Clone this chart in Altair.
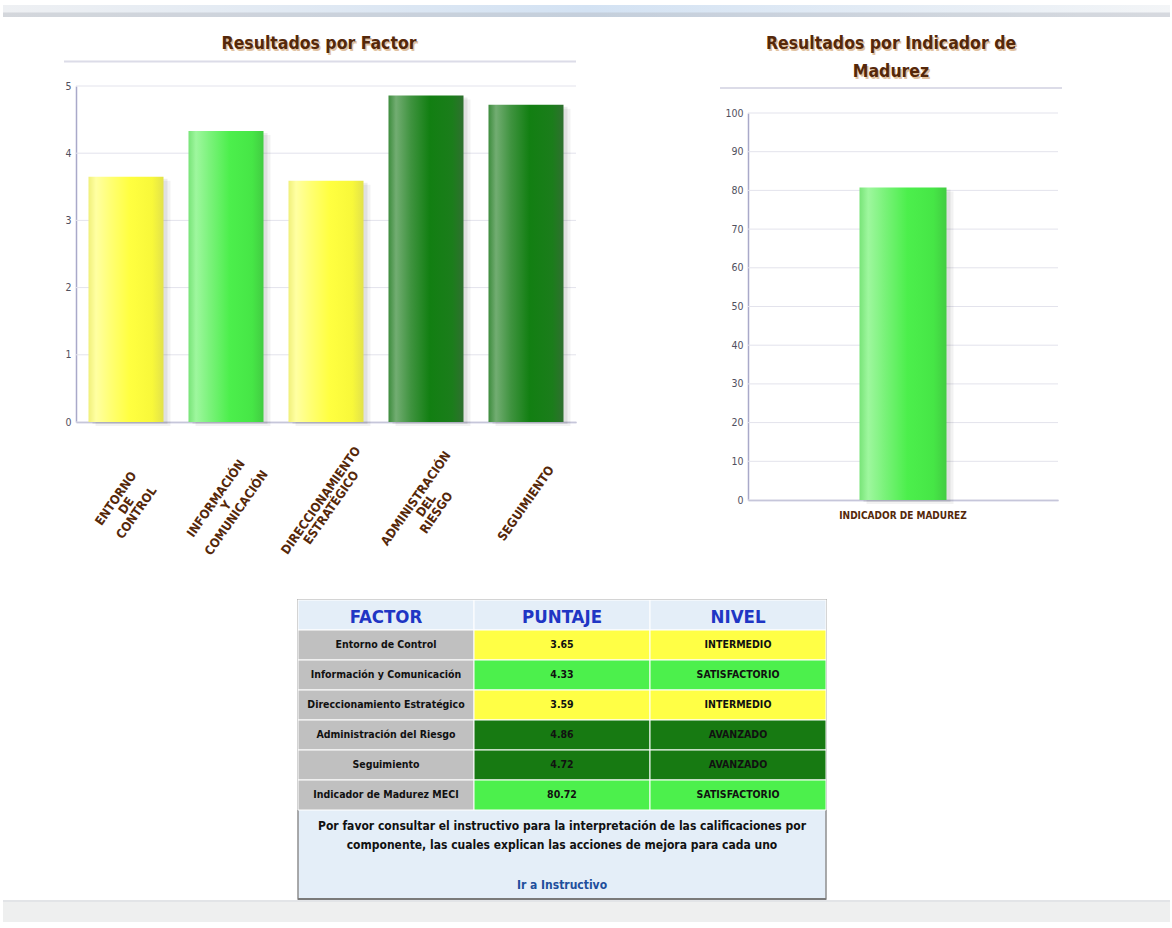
import altair as alt
import pandas as pd

# ------------------------------------------------------------------ data
factor_names = ["Entorno de Control", "Información y Comunicación",
                "Direccionamiento Estratégico", "Administración del Riesgo",
                "Seguimiento"]
factor_axis_labels = ["ENTORNO DE CONTROL", "INFORMACIÓN Y COMUNICACIÓN",
                      "DIRECCIONAMIENTO ESTRATÉGICO", "ADMINISTRACIÓN DEL RIESGO",
                      "SEGUIMIENTO"]
factor_scores = [3.65, 4.33, 3.59, 4.86, 4.72]
factor_levels = ["INTERMEDIO", "SATISFACTORIO", "INTERMEDIO", "AVANZADO", "AVANZADO"]

indicator_axis_labels = ["INDICADOR DE MADUREZ"]
indicator_names = ["Indicador de Madurez MECI"]
indicator_scores = [80.72]
indicator_levels = ["SATISFACTORIO"]

factor_ticks = [0, 1, 2, 3, 4, 5]
indicator_ticks = [0, 10, 20, 30, 40, 50, 60, 70, 80, 90, 100]

title_factor = "Resultados por Factor"
title_indicator = ["Resultados por Indicador de", "Madurez"]
table_headers = ["FACTOR", "PUNTAJE", "NIVEL"]
footer_lines = ["Por favor consultar el instructivo para la interpretación de las calificaciones por",
                "componente, las cuales explican las acciones de mejora para cada uno"]
link_text = "Ir a Instructivo"

# ------------------------------------------------------------------ styles / layout
PAGE_W, PAGE_H = 1170, 922
NARROW = "Liberation Sans Narrow, DejaVu Sans Condensed, Lato, sans-serif"
BROWN = "#55280a"
AXIS_LINE = "#a9a9c9"
GRID = "#e3e3ec"
TICK_TEXT = "#50505e"

# plot areas (pixel frames of each panel)
L_LEFT, L_RIGHT, L_TOP, L_BOTTOM = 76, 576, 86, 422
R_LEFT, R_RIGHT, R_TOP, R_BOTTOM = 748, 1058, 113, 500
T_LEFT, T_RIGHT, T_TOP, T_ROWS_BOTTOM, T_BOTTOM = 298, 826, 600, 810, 899


def hgrad(stops):
    return alt.Gradient(gradient="linear", x1=0, x2=1, y1=0, y2=0,
                        stops=[alt.GradientStop(offset=o, color=c) for o, c in stops])


BAR_GRAD = {
    "INTERMEDIO": hgrad([(0, "#f0f07a"), (0.1, "#ffffa2"), (0.3, "#ffff72"),
                         (0.55, "#ffff40"), (0.85, "#f8f83a"), (1, "#e2e24a")]),
    "SATISFACTORIO": hgrad([(0, "#78e478"), (0.1, "#9ef79e"), (0.3, "#78f278"),
                            (0.55, "#4cef4c"), (0.85, "#46e646"), (1, "#42cc42")]),
    "AVANZADO": hgrad([(0, "#3d8c3d"), (0.1, "#72ad72"), (0.3, "#3f933f"),
                       (0.55, "#127f12"), (0.85, "#1b7d1b"), (1, "#2f702f")]),
}
CELL_FILL = {"INTERMEDIO": "#ffff45", "SATISFACTORIO": "#4cf04c", "AVANZADO": "#177a12"}
GRAY_CELL = "#c0c0c0"
TABLE_BG = "#e4eef8"

one_row = alt.Data(values=[{}])


def deco_rect(x, x2, y, y2, color, opacity=1.0, **kw):
    return alt.Chart(one_row).mark_rect(color=color, opacity=opacity, **kw).encode(
        x=alt.value(x), x2=alt.value(x2), y=alt.value(y), y2=alt.value(y2))


def deco_rule(x, x2, y, color, width):
    return alt.Chart(one_row).mark_rule(color=color, strokeWidth=width).encode(
        x=alt.value(x), x2=alt.value(x2), y=alt.value(y))


def text_at(x, y, text, size, color, weight="bold", line_height=19, opacity=1.0):
    # y is the centre of the first line
    return alt.Chart(one_row).mark_text(
        font=NARROW, fontSize=size, fontWeight=weight, color=color, align="center",
        baseline="middle", lineHeight=line_height, opacity=opacity).encode(
        x=alt.value(x), y=alt.value(y), text=alt.value(text))


def panel(df, cats, ydomain, ticks, frame, xaxis, yaxis, size=None, band_pad=None):
    left_px, right_px, top_px, bottom_px = frame
    xs = dict(domain=cats, range=[left_px, right_px])
    if band_pad:
        xs.update(paddingInner=band_pad[0], paddingOuter=band_pad[1])
    ys = dict(domain=ydomain, range=[bottom_px, top_px], nice=False)
    kw = {} if size is None else {"size": size}

    def X(axis=None):
        return alt.X("cat:N", scale=alt.Scale(**xs), axis=axis)

    def Y(axis=None):
        return alt.Y("score:Q", scale=alt.Scale(**ys), axis=axis)

    grid = alt.Chart(pd.DataFrame({"v": ticks})).mark_rule(color=GRID, strokeWidth=1).encode(
        y=alt.Y("v:Q", scale=alt.Scale(**ys), axis=None),
        x=alt.value(left_px), x2=alt.value(right_px))
    layers = [
        grid,
        alt.Chart(df).mark_bar(color="#000000", opacity=0.05, xOffset=7, yOffset=4, **kw)
        .encode(x=X(xaxis), y=Y(yaxis)),
        alt.Chart(df).mark_bar(color="#000000", opacity=0.07, xOffset=4, yOffset=2, **kw)
        .encode(x=X(), y=Y()),
    ]
    for lvl, grad in BAR_GRAD.items():
        if lvl in list(df["nivel"]):
            layers.append(
                alt.Chart(df).transform_filter(alt.datum.nivel == lvl)
                .mark_bar(color=grad, **kw).encode(x=X(), y=Y()))
    return layers


# ------------------------------------------------------------------ left panel
N_LINES = "length(split(datum.label, ' '))"
label_offset = {"condition": [{"test": f"{N_LINES} >= 3", "value": -10},
                              {"test": f"{N_LINES} == 2", "value": -5}],
                "value": 0}
label_padding = {"condition": [{"test": f"{N_LINES} >= 3", "value": 76},
                               {"test": f"{N_LINES} == 2", "value": 78}],
                 "value": 81}
df1 = pd.DataFrame({"cat": factor_axis_labels, "score": factor_scores, "nivel": factor_levels})
xaxis1 = alt.Axis(title=None, orient="bottom", offset=L_BOTTOM - PAGE_H, ticks=False,
                  grid=False, domainColor=AXIS_LINE, domainWidth=1.5, labelAngle=305,
                  labelAlign="center", labelBaseline="middle", labelPadding=label_padding,
                  labelOffset=label_offset,
                  labelOverlap=False, labelExpr="split(datum.label, ' ')",
                  labelLineHeight=12.5, labelFont=NARROW, labelFontSize=12.5,
                  labelFontWeight="bold", labelColor=BROWN)
yaxis1 = alt.Axis(title=None, orient="left", offset=-L_LEFT, values=factor_ticks,
                  ticks=False, grid=False, labelPadding=5, domainColor=AXIS_LINE,
                  domainWidth=1.5, labelFont=NARROW, labelFontSize=10.5,
                  labelColor=TICK_TEXT)
left_layers = panel(df1, factor_axis_labels, [0, 5], factor_ticks,
                    (L_LEFT, L_RIGHT, L_TOP, L_BOTTOM), xaxis1, yaxis1,
                    band_pad=(0.25, 0.125))

# ------------------------------------------------------------------ right panel
df2 = pd.DataFrame({"cat": indicator_axis_labels, "score": indicator_scores,
                    "nivel": indicator_levels})
xaxis2 = alt.Axis(title=None, orient="bottom", offset=R_BOTTOM - PAGE_H, ticks=False,
                  grid=False, domainColor=AXIS_LINE, domainWidth=1.5, labelAngle=0,
                  labelPadding=10, labelFont=NARROW, labelFontSize=10,
                  labelFontWeight="bold", labelColor=BROWN)
yaxis2 = alt.Axis(title=None, orient="left", offset=-R_LEFT, values=indicator_ticks,
                  ticks=False, grid=False, labelPadding=5, domainColor=AXIS_LINE,
                  domainWidth=1.5, labelFont=NARROW, labelFontSize=10.5,
                  labelColor=TICK_TEXT)
right_layers = panel(df2, indicator_axis_labels, [0, 100], indicator_ticks,
                     (R_LEFT, R_RIGHT, R_TOP, R_BOTTOM), xaxis2, yaxis2, size=87)

# ------------------------------------------------------------------ table
row_keys = ["h"] + [f"r{i}" for i in range(len(factor_names) + len(indicator_names))]
cells = []
for h in table_headers:
    cells.append(dict(row="h", col=h, text=h, fill=TABLE_BG, kind="head"))
all_names = factor_names + indicator_names
all_scores = factor_scores + indicator_scores
all_levels = factor_levels + indicator_levels
for i, (n, s, lv) in enumerate(zip(all_names, all_scores, all_levels)):
    rk = row_keys[i + 1]
    cells.append(dict(row=rk, col=table_headers[0], text=n, fill=GRAY_CELL, kind="body"))
    cells.append(dict(row=rk, col=table_headers[1], text=f"{s:.2f}", fill=CELL_FILL[lv], kind="body"))
    cells.append(dict(row=rk, col=table_headers[2], text=lv, fill=CELL_FILL[lv], kind="body"))
tdf = pd.DataFrame(cells)

tx = alt.X("col:N", scale=alt.Scale(domain=table_headers, range=[T_LEFT, T_RIGHT],
                                     paddingInner=0, paddingOuter=0), axis=None)
ty = alt.Y("row:N", scale=alt.Scale(domain=row_keys, range=[T_TOP, T_ROWS_BOTTOM],
                                     paddingInner=0, paddingOuter=0), axis=None)
T_MID = (T_LEFT + T_RIGHT) / 2

table_layers = [
    deco_rect(T_LEFT, T_RIGHT, T_TOP, T_BOTTOM, TABLE_BG, stroke="#8e8e8e", strokeWidth=1.5),
    alt.Chart(tdf).mark_rect(stroke="#ffffff", strokeWidth=1).encode(
        x=tx, y=ty, fill=alt.Fill("fill:N", scale=None)),
    alt.Chart(tdf).transform_filter(alt.datum.kind == "head").mark_text(
        font=NARROW, fontSize=18.5, fontWeight="bold", color="#1f36c4", baseline="middle",
        dy=2).encode(x=tx, y=ty, text="text:N"),
    alt.Chart(tdf).transform_filter(alt.datum.kind == "body").mark_text(
        font=NARROW, fontSize=10.5, fontWeight="bold", color="#111111",
        baseline="middle").encode(x=tx, y=ty, text="text:N"),
    text_at(T_MID, 826, footer_lines, 12, "#111111"),
    text_at(T_MID, 885, link_text, 12, "#1f4f9c"),
    deco_rule(T_LEFT, T_RIGHT, T_BOTTOM, "#7a7a7a", 2),
]

# ------------------------------------------------------------------ page chrome
chrome_layers = [
    deco_rect(3, PAGE_W, 5, 17, hgrad([(0, "#eef0f3"), (0.5, "#d3e2f3"), (1, "#f3f5f7")])),
    deco_rect(3, PAGE_W, 12.5, 17, "#b4b9c0", 0.45),
    deco_rect(3, PAGE_W, 900, PAGE_H, "#eeefef"),
    deco_rect(3, PAGE_W, 900, 902, "#e2e4e7"),
    deco_rule(64, 576, 61.5, "#dcdce8", 2),
    deco_rule(720, 1062, 88, "#dcdce8", 2),
    text_at(320.5, 45.5, title_factor, 17.5, "#d4a878", opacity=0.7),
    text_at(892.5, 45.5, title_indicator, 17.5, "#d4a878", line_height=28, opacity=0.7),
    text_at(319, 44, title_factor, 17.5, BROWN),
    text_at(891, 44, title_indicator, 17.5, BROWN, line_height=28),
]

chart = alt.layer(
    *chrome_layers, *left_layers, *right_layers, *table_layers
).resolve_scale(x="independent", y="independent").resolve_axis(
    x="independent", y="independent"
).properties(
    width=PAGE_W, height=PAGE_H,
    padding=0,
    autosize=alt.AutoSizeParams(type="none"),
    background="#ffffff",
).configure_view(strokeWidth=0)

chart.save("out.html", embed_options={"renderer": "svg", "actions": False})
